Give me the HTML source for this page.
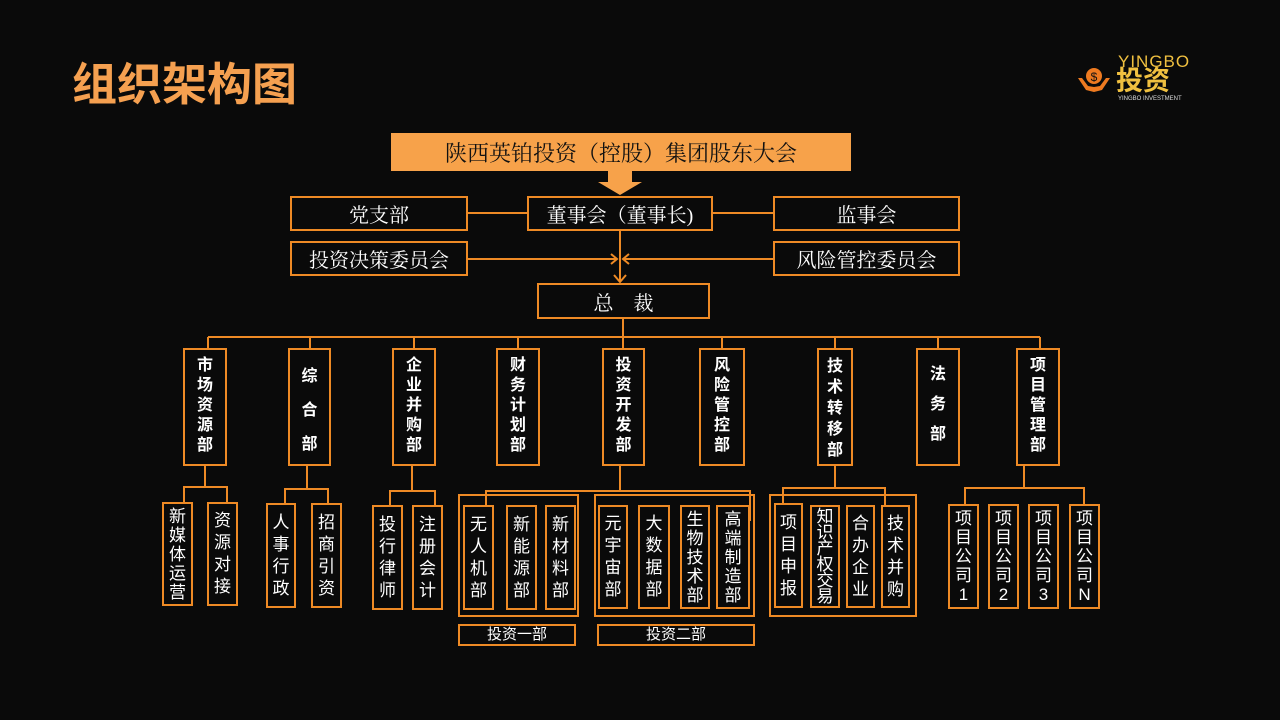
<!DOCTYPE html>
<html><head><meta charset="utf-8"><style>
*{margin:0;padding:0;box-sizing:border-box}
body{width:1280px;height:720px;background:#0a0a0a;position:relative;overflow:hidden;font-family:"Liberation Serif","Noto Serif CJK SC","Noto Sans CJK SC",serif;color:#fff}
.b{position:absolute;border:2px solid #ee8a25;display:flex;align-items:center;justify-content:center;text-align:center}
.h{font-size:20px}
.d{font-family:"Liberation Sans","Noto Sans CJK SC",sans-serif;font-weight:bold;font-size:16px;line-height:20px;align-items:flex-start;padding-top:6px}
.s{font-family:"Liberation Sans","Noto Sans CJK SC",sans-serif;font-size:17px;line-height:22px}
.g{position:absolute;border:2px solid #ee8a25}
</style></head><body>
<div style="position:absolute;left:72px;top:48px;font-family:'Liberation Sans','Noto Sans CJK SC',sans-serif;font-weight:bold;font-size:45px;color:#f5a050;letter-spacing:0px">组织架构图</div>
<div style="position:absolute;left:1076px;top:62px;width:36px;height:36px">
<svg width="36" height="36" viewBox="0 0 36 36"><circle cx="18" cy="14" r="8" fill="#ee7a20"/><text x="18" y="19" font-size="12" text-anchor="middle" fill="#111" font-family="Liberation Sans">$</text><path d="M2 16 L10 28 L18 30 L26 28 L34 16 L30 16 L24 24 L18 25 L12 24 L6 16Z" fill="#ee7a20"/></svg></div>
<div style="position:absolute;left:1118px;top:52px;font-family:'Liberation Sans',sans-serif;font-size:17px;color:#f0c040;letter-spacing:1px">YINGBO</div>
<div style="position:absolute;left:1116px;top:66px;font-family:'Liberation Sans','Noto Sans CJK SC',sans-serif;font-weight:bold;font-size:27px;color:#f0c040;line-height:30px">投资</div>
<div style="position:absolute;left:1118px;top:96px;font-family:'Liberation Sans',sans-serif;font-size:6px;color:#ddd">YINGBO INVESTMENT</div>

<div class="b h" style="left:391px;top:133px;width:460px;height:38px;background:#f7a24a;color:#111;font-size:22px;border-color:#f7a24a">陕西英铂投资（控股）集团股东大会</div>
<svg style="position:absolute;left:0;top:0" width="1280" height="720">
<polygon points="608,171 632,171 632,182 642,182 620,195 598,182 608,182" fill="#f7a24a"/>
<g stroke="#ee8a25" stroke-width="2" fill="none">
<line x1="468" y1="213" x2="527" y2="213"/><line x1="713" y1="213" x2="773" y2="213"/>
<line x1="620" y1="231" x2="620" y2="282"/>
<line x1="468" y1="259" x2="617" y2="259"/><line x1="773" y1="259" x2="623" y2="259"/>
<polyline points="611,254 617,259 611,264"/><polyline points="629,254 623,259 629,264"/>
<polyline points="614,275 620,282 626,275"/>
<line x1="623" y1="319" x2="623" y2="337"/>
<line x1="208" y1="337" x2="1040" y2="337"/>
<line x1="208" y1="337" x2="208" y2="348"/><line x1="310" y1="337" x2="310" y2="348"/><line x1="414" y1="337" x2="414" y2="348"/><line x1="518" y1="337" x2="518" y2="348"/><line x1="623" y1="337" x2="623" y2="348"/><line x1="722" y1="337" x2="722" y2="348"/><line x1="835" y1="337" x2="835" y2="348"/><line x1="938" y1="337" x2="938" y2="348"/><line x1="1040" y1="337" x2="1040" y2="348"/>
<polyline points="205,466 205,486"/><polyline points="184,502 184,487 227,487 227,502"/>
<polyline points="307,466 307,489"/><polyline points="285,503 285,489 328,489 328,503"/>
<polyline points="412,466 412,491"/><polyline points="390,505 390,491 435,491 435,505"/>
<polyline points="620,466 620,491"/><polyline points="486,505 486,491 750,491 750,521"/>
<polyline points="835,466 835,488"/><polyline points="783,503 783,488 885,488 885,505"/>
<polyline points="1024,466 1024,488"/><polyline points="965,504 965,488 1084,488 1084,504"/>
</g></svg>
<div class="b h" style="left:290px;top:196px;width:178px;height:35px">党支部</div>
<div class="b h" style="left:527px;top:196px;width:186px;height:35px">董事会（董事长)</div>
<div class="b h" style="left:773px;top:196px;width:187px;height:35px">监事会</div>
<div class="b h" style="left:290px;top:241px;width:178px;height:35px">投资决策委员会</div>
<div class="b h" style="left:773px;top:241px;width:187px;height:35px">风险管控委员会</div>
<div class="b h" style="left:537px;top:283px;width:173px;height:36px">总&nbsp;&nbsp;&nbsp;&nbsp;裁</div>

<div class="b d" style="left:183px;top:348px;width:44px;height:118px">市<br>场<br>资<br>源<br>部</div>
<div class="b d" style="left:288px;top:348px;width:43px;height:118px;line-height:34px;padding-top:10px">综<br>合<br>部</div>
<div class="b d" style="left:392px;top:348px;width:44px;height:118px">企<br>业<br>并<br>购<br>部</div>
<div class="b d" style="left:496px;top:348px;width:44px;height:118px">财<br>务<br>计<br>划<br>部</div>
<div class="b d" style="left:602px;top:348px;width:43px;height:118px">投<br>资<br>开<br>发<br>部</div>
<div class="b d" style="left:699px;top:348px;width:46px;height:118px">风<br>险<br>管<br>控<br>部</div>
<div class="b d" style="left:817px;top:348px;width:36px;height:118px;line-height:21px">技<br>术<br>转<br>移<br>部</div>
<div class="b d" style="left:916px;top:348px;width:44px;height:118px;line-height:30px;padding-top:10px">法<br>务<br>部</div>
<div class="b d" style="left:1016px;top:348px;width:44px;height:118px">项<br>目<br>管<br>理<br>部</div>

<div class="b s" style="left:162px;top:502px;width:31px;height:104px;line-height:19px">新<br>媒<br>体<br>运<br>营</div>
<div class="b s" style="left:207px;top:502px;width:31px;height:104px">资<br>源<br>对<br>接</div>
<div class="b s" style="left:266px;top:503px;width:30px;height:105px">人<br>事<br>行<br>政</div>
<div class="b s" style="left:311px;top:503px;width:31px;height:105px">招<br>商<br>引<br>资</div>
<div class="b s" style="left:372px;top:505px;width:31px;height:105px">投<br>行<br>律<br>师</div>
<div class="b s" style="left:412px;top:505px;width:31px;height:105px">注<br>册<br>会<br>计</div>

<div class="g" style="left:458px;top:494px;width:121px;height:123px"></div>
<div class="b s" style="left:463px;top:505px;width:31px;height:105px">无<br>人<br>机<br>部</div>
<div class="b s" style="left:506px;top:505px;width:31px;height:105px">新<br>能<br>源<br>部</div>
<div class="b s" style="left:545px;top:505px;width:31px;height:105px">新<br>材<br>料<br>部</div>
<div class="b s" style="left:458px;top:624px;width:118px;height:22px;font-size:15px">投资一部</div>

<div class="g" style="left:594px;top:494px;width:161px;height:123px"></div>
<div class="b s" style="left:598px;top:505px;width:30px;height:104px">元<br>宇<br>宙<br>部</div>
<div class="b s" style="left:638px;top:505px;width:32px;height:104px">大<br>数<br>据<br>部</div>
<div class="b s" style="left:680px;top:505px;width:30px;height:104px;line-height:19px">生<br>物<br>技<br>术<br>部</div>
<div class="b s" style="left:716px;top:505px;width:34px;height:104px;line-height:19px">高<br>端<br>制<br>造<br>部</div>
<div class="b s" style="left:597px;top:624px;width:158px;height:22px;font-size:15px">投资二部</div>

<div class="g" style="left:769px;top:494px;width:148px;height:123px"></div>
<div class="b s" style="left:774px;top:503px;width:29px;height:105px">项<br>目<br>申<br>报</div>
<div class="b s" style="left:810px;top:505px;width:30px;height:103px;line-height:16px">知<br>识<br>产<br>权<br>交<br>易</div>
<div class="b s" style="left:846px;top:505px;width:29px;height:103px">合<br>办<br>企<br>业</div>
<div class="b s" style="left:881px;top:505px;width:29px;height:103px">技<br>术<br>并<br>购</div>

<div class="b s" style="left:948px;top:504px;width:31px;height:105px;line-height:19px">项<br>目<br>公<br>司<br>1</div>
<div class="b s" style="left:988px;top:504px;width:31px;height:105px;line-height:19px">项<br>目<br>公<br>司<br>2</div>
<div class="b s" style="left:1028px;top:504px;width:31px;height:105px;line-height:19px">项<br>目<br>公<br>司<br>3</div>
<div class="b s" style="left:1069px;top:504px;width:31px;height:105px;line-height:19px">项<br>目<br>公<br>司<br>N</div>
</body></html>
